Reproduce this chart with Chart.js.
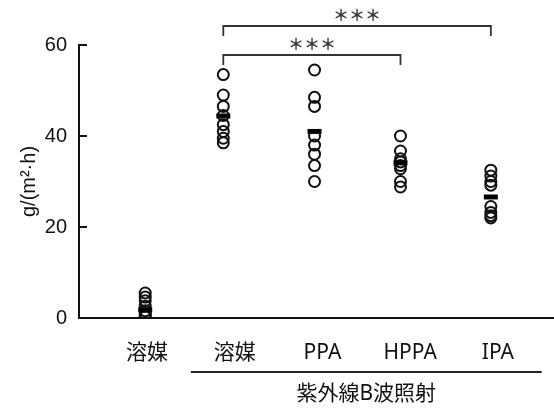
<!DOCTYPE html>
<html>
<head>
<meta charset="utf-8">
<script src="https://cdn.jsdelivr.net/npm/chart.js@4/dist/chart.umd.min.js"></script>
<style>
  html, body { margin: 0; padding: 0; background: #fff; overflow: hidden; }
  canvas { display: block; }
</style>
</head>
<body>
<canvas id="myCanvas" width="554" height="408"></canvas>
<script>
// categories along the x axis
const categories = ['溶媒', '溶媒', 'PPA', 'HPPA', 'IPA'];
// where each group's dots sit on the x scale
const groupX = [0.98, 1.87, 2.91, 3.89, 4.92];
// individual values, g/(m2·h)
const vehicle = [5.5, 4.6, 3.8, 2.6, 1.6, 1.0, 0.6, 0.3];
const uvbVehicle = [53.5, 49, 46.5, 44.5, 42.5, 41, 39.5, 38.5];
const ppa = [54.5, 48.5, 46.5, 40, 38, 36, 33.5, 30];
const hppa = [40, 36.7, 35, 34.3, 33.5, 32.8, 30, 28.8];
const ipa = [32.5, 31.2, 30, 29.2, 24.5, 23.2, 22.5, 22];
const means = [1.8, 44.4, 41.0, 34.1, 26.6];
const yTicks = [0, 20, 40, 60];
const yTitle = 'g/(m²·h)';
const groupLabel = '紫外線B波照射';
// [from group, to group, mark]
const comparisons = [[1, 4, '***'], [1, 3, '***']];

const groups = [vehicle, uvbVehicle, ppa, hppa, ipa];
const dots = [];
groups.forEach((vals, i) => vals.forEach(v => dots.push({x: groupX[i], y: v})));
const meanPts = means.map((m, i) => ({x: groupX[i], y: m}));

const sansJP = "'Noto Sans', 'Noto Sans CJK JP', sans-serif";
const arial = "'Liberation Sans', Arial, sans-serif";

const extras = {
  id: 'extras',
  afterDraw(chart) {
    const ctx = chart.ctx;
    const x = chart.scales.x, y = chart.scales.y;
    const area = chart.chartArea;
    ctx.save();

    // inward ticks on the y axis
    ctx.strokeStyle = '#111';
    ctx.lineWidth = 2;
    yTicks.forEach(t => {
      const py = Math.round(y.getPixelForValue(t));
      ctx.beginPath();
      ctx.moveTo(area.left, py);
      ctx.lineTo(area.left + 8, py);
      ctx.stroke();
    });

    // significance brackets
    ctx.strokeStyle = '#333';
    ctx.lineWidth = 1.8;
    ctx.fillStyle = '#3a3a3a';
    ctx.font = "bold 16px 'Noto Sans CJK JP'";
    ctx.textAlign = 'center';
    ctx.textBaseline = 'middle';
    comparisons.forEach((c, k) => {
      const x1 = x.getPixelForValue(groupX[c[0]]);
      const x2 = x.getPixelForValue(groupX[c[1]]);
      const top = area.top - 19 + k * 29;
      ctx.beginPath();
      ctx.moveTo(x1, top + 10);
      ctx.lineTo(x1, top);
      ctx.lineTo(x2, top);
      ctx.lineTo(x2, top + 10);
      ctx.stroke();
      ctx.fillText(c[2].replace(/\*/g, '＊'), (x1 + x2) / 2, top - 11);
    });

    // group underline and label
    const gx1 = x.getPixelForValue(1.5);
    const gx2 = x.getPixelForValue(5.5);
    const gy = area.bottom + 54;
    ctx.strokeStyle = '#222';
    ctx.lineWidth = 2;
    ctx.beginPath();
    ctx.moveTo(gx1, gy);
    ctx.lineTo(gx2, gy);
    ctx.stroke();
    ctx.fillStyle = '#111';
    ctx.font = '21px ' + sansJP;
    ctx.fillText(groupLabel, (gx1 + gx2) / 2, gy + 22);
    ctx.restore();
  }
};

new Chart(document.getElementById('myCanvas'), {
  type: 'scatter',
  data: {
    datasets: [
      {
        data: meanPts,
        order: 0,
        pointStyle: 'line',
        pointRadius: 7,
        pointHoverRadius: 7,
        borderColor: '#000',
        borderWidth: 5,
        pointBorderWidth: 5
      },
      {
        data: dots,
        order: 1,
        pointStyle: 'circle',
        pointRadius: 5.5,
        pointHoverRadius: 5.5,
        borderColor: '#111',
        backgroundColor: 'rgba(255,255,255,0)',
        pointBorderWidth: 2
      }
    ]
  },
  options: {
    responsive: false,
    animation: false,
    events: [],
    layout: {autoPadding: false, padding: {top: 45, left: 0, right: 0, bottom: 0}},
    plugins: {legend: {display: false}, tooltip: {enabled: false}},
    scales: {
      x: {
        type: 'linear',
        min: 0.225,
        max: 5.64,
        grid: {display: false, drawTicks: false},
        border: {display: true, color: '#111', width: 2},
        afterBuildTicks: s => { s.ticks = categories.map((c, i) => ({value: i + 1})); },
        afterFit: s => { s.height = 90; s.paddingLeft = 0; s.paddingRight = 0; },
        ticks: {
          autoSkip: false,
          maxRotation: 0,
          padding: 22,
          color: '#111',
          font: {family: sansJP, size: 21},
          callback: (v, i) => categories[i]
        }
      },
      y: {
        min: 0,
        max: 60,
        grid: {display: false, drawTicks: false},
        border: {display: true, color: '#111', width: 2},
        afterBuildTicks: s => { s.ticks = yTicks.map(v => ({value: v})); },
        afterFit: s => { s.width = 79; s.paddingTop = 0; s.paddingBottom = 0; },
        ticks: {
          padding: 12,
          color: '#111',
          font: {family: arial, size: 20}
        },
        title: {
          display: true,
          text: yTitle,
          color: '#111',
          padding: {top: 17, bottom: 0},
          font: {family: arial, size: 20}
        }
      }
    }
  },
  plugins: [extras]
});
</script>
</body>
</html>
